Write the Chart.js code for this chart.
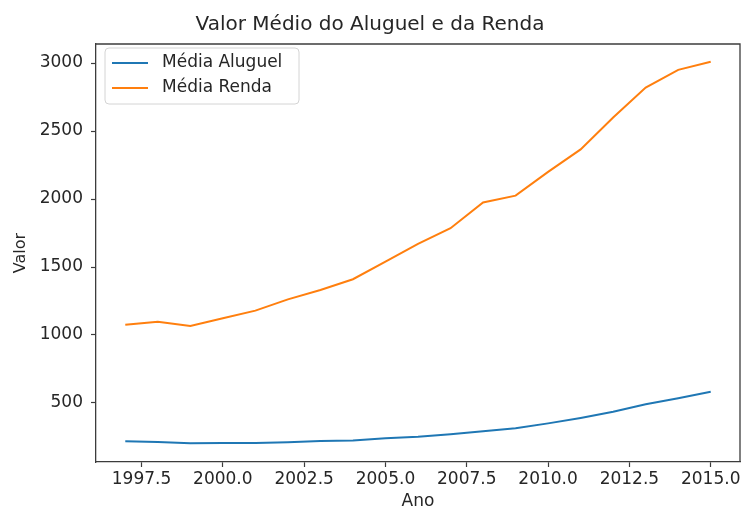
<!DOCTYPE html>
<html>
<head>
<meta charset="utf-8">
<script src="https://cdn.jsdelivr.net/npm/chart.js"></script>
<style>
  html, body { margin: 0; padding: 0; background: #fff; }
</style>
</head>
<body>
<canvas id="myChart" width="744" height="506"></canvas>

<script>
// Dados
const anos = [1997, 1998, 1999, 2000, 2001, 2002, 2003, 2004, 2005, 2006,
              2007, 2008, 2009, 2010, 2011, 2012, 2013, 2014, 2015];
const mediaAluguel = [218, 213, 204, 205, 206, 212, 220, 225, 240, 252,
                      270, 292, 315, 350, 390, 435, 490, 535, 582];
const mediaRenda = [1075, 1098, 1066, 1123, 1179, 1262, 1331, 1410, 1540, 1670,
                    1785, 1975, 2025, 2200, 2365, 2600, 2820, 2950, 3010];
const xTicks = [1997.5, 2000, 2002.5, 2005, 2007.5, 2010, 2012.5, 2015];
const yTicks = [500, 1000, 1500, 2000, 2500, 3000];

const corTexto = '#262626';
const corEixo = '#3c3c3c';
const fonte = 'DejaVu Sans';

function pontos(valores) {
  return anos.map((a, i) => ({ x: a, y: valores[i] }));
}

// moldura completa (estilo matplotlib)
const moldura = {
  id: 'moldura',
  afterDraw(chart) {
    const { ctx, chartArea: a } = chart;
    ctx.save();
    ctx.strokeStyle = corEixo;
    ctx.lineWidth = 1.3;
    ctx.beginPath();
    ctx.moveTo(a.left, a.top);
    ctx.lineTo(a.right, a.top);
    ctx.lineTo(a.right, a.bottom);
    ctx.stroke();
    ctx.restore();
  }
};

// legenda dentro da area do grafico
const legendaBox = {
  id: 'legendaBox',
  afterDatasetsDraw(chart) {
    const { ctx, chartArea } = chart;
    const x0 = chartArea.left + 9, y0 = chartArea.top + 4;
    const w = 194, h = 56;
    ctx.save();
    ctx.beginPath();
    ctx.roundRect(x0, y0, w, h, 4);
    ctx.fillStyle = 'rgba(255,255,255,0.8)';
    ctx.fill();
    ctx.strokeStyle = '#d4d4d4';
    ctx.lineWidth = 1;
    ctx.stroke();
    ctx.font = '17px "' + fonte + '"';
    ctx.textBaseline = 'middle';
    chart.data.datasets.forEach((ds, i) => {
      const y = y0 + 15 + i * 25;
      ctx.strokeStyle = ds.borderColor;
      ctx.lineWidth = 2;
      ctx.beginPath();
      ctx.moveTo(x0 + 7, y);
      ctx.lineTo(x0 + 43, y);
      ctx.stroke();
      ctx.fillStyle = corTexto;
      ctx.fillText(ds.label, x0 + 57, y);
    });
    ctx.restore();
  }
};

const data = {
  datasets: [
    {
      label: 'Média Aluguel',
      data: pontos(mediaAluguel),
      borderColor: '#1f77b4',
      borderWidth: 2,
      pointRadius: 0,
      tension: 0
    },
    {
      label: 'Média Renda',
      data: pontos(mediaRenda),
      borderColor: '#ff7f0e',
      borderWidth: 2,
      pointRadius: 0,
      tension: 0
    }
  ]
};

const config = {
  type: 'line',
  data: data,
  options: {
    responsive: false,
    animation: false,
    layout: { padding: { left: 0, right: 4, top: 0, bottom: 0 } },
    plugins: {
      legend: { display: false },
      tooltip: { enabled: false },
      title: {
        display: true,
        text: 'Valor Médio do Aluguel e da Renda',
        color: corTexto,
        font: { family: fonte, size: 20, weight: 'normal', lineHeight: 1.2 },
        padding: { top: 13, bottom: 7 }
      }
    },
    scales: {
      x: {
        type: 'linear',
        min: 1996.1,
        max: 2015.9,
        afterBuildTicks: s => { s.ticks = xTicks.map(v => ({ value: v })); },
        afterFit: s => { s.height = 44; s.paddingLeft = 0; s.paddingRight = 0; },
        ticks: {
          color: corTexto,
          font: { family: fonte, size: 17 },
          padding: 2,
          maxRotation: 0,
          autoSkip: false,
          callback: v => Number(v).toFixed(1)
        },
        grid: { drawOnChartArea: false, color: corEixo, tickLength: 5, tickWidth: 1.2 },
        border: { color: corEixo, width: 1.3 },
        title: {
          display: true,
          text: 'Ano',
          color: corTexto,
          font: { family: fonte, size: 17, lineHeight: 0.5 },
          padding: { top: 0, bottom: 0 }
        }
      },
      y: {
        min: 66,
        max: 3140,
        afterBuildTicks: s => { s.ticks = yTicks.map(v => ({ value: v })); },
        afterFit: s => { s.width = 96; },
        ticks: {
          color: corTexto,
          font: { family: fonte, size: 17 },
          padding: 8,
          callback: v => String(v)
        },
        grid: { drawOnChartArea: false, color: corEixo, tickLength: 5, tickWidth: 1.2 },
        border: { color: corEixo, width: 1.3 },
        title: {
          display: true,
          text: 'Valor',
          color: corTexto,
          font: { family: fonte, size: 16 },
          padding: { top: 11, bottom: 0 }
        }
      }
    }
  },
  plugins: [moldura, legendaBox]
};

const myChart = new Chart(document.getElementById('myChart'), config);
</script>
</body>
</html>
